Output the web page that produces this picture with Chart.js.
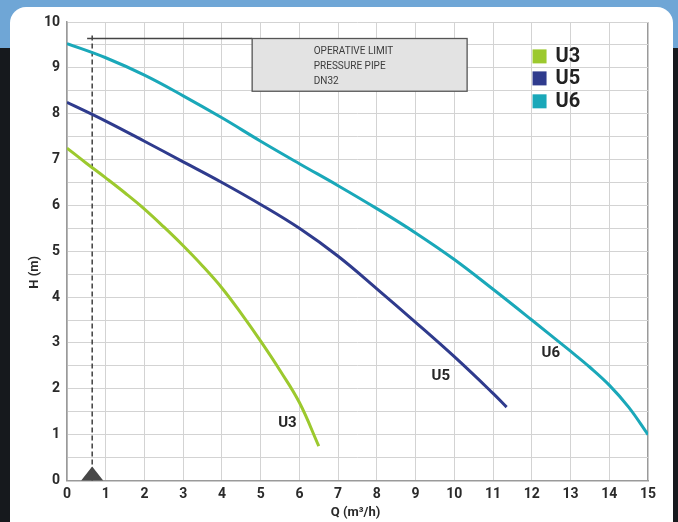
<!DOCTYPE html>
<html><head><meta charset="utf-8">
<script src="https://cdn.jsdelivr.net/npm/chart.js@4.4.1/dist/chart.umd.min.js"></script>
<style>
html,body{margin:0;padding:0;width:678px;height:522px;overflow:hidden;}
body{background:linear-gradient(to bottom,#6fa6d6 0,#6fa6d6 48px,#16191d 48px,#16191d 100%);position:relative;}
#panel{position:absolute;left:10px;top:7px;width:663px;height:540px;background:#fff;border-radius:16px 16px 0 0;}
#wrap{position:absolute;left:0;top:0;width:678px;height:522px;}
</style></head><body>
<div id="panel"></div>
<div id="wrap"><canvas id="c" width="678" height="522"></canvas></div>
<script>
// ---- data ----
const seriesNames = ['U3', 'U5', 'U6'];
const seriesColors = ['#9cc92e', '#2f3b8d', '#1aa8b9'];
const u3Q = [0, 0.5, 1, 1.5, 2, 2.5, 3, 3.5, 4, 4.5, 5, 5.5, 6, 6.5];
const u3H = [7.25, 6.92, 6.6, 6.27, 5.92, 5.53, 5.12, 4.68, 4.2, 3.64, 3.04, 2.4, 1.7, 0.75];
const u5Q = [0, 1, 2, 3, 4, 5, 6, 7, 8, 9, 10, 11, 11.35];
const u5H = [8.25, 7.84, 7.4, 6.95, 6.5, 6.02, 5.5, 4.89, 4.18, 3.45, 2.7, 1.9, 1.6];
const u6Q = [0, 1, 2, 3, 4, 5, 6, 7, 8, 9, 10, 11, 12, 13, 13.5, 14, 14.5, 15];
const u6H = [9.53, 9.22, 8.84, 8.39, 7.91, 7.4, 6.91, 6.43, 5.93, 5.4, 4.82, 4.17, 3.5, 2.82, 2.47, 2.08, 1.6, 1.0];
const xTicks = [0,1,2,3,4,5,6,7,8,9,10,11,12,13,14,15];
const yTicks = [0,1,2,3,4,5,6,7,8,9,10];
const limitQ = 0.65;         // operative limit flow
const limitH = 9.64;         // level of the limit line
const limitStartQ = 0.52;
const noteBoxQ = [4.78, 10.33];
const noteBoxH = [9.64, 8.49];
const noteLines = ['OPERATIVE LIMIT', 'PRESSURE PIPE', 'DN32'];
const noteTextQ = 6.37;
const curveLabelQ = [5.69, 9.65, 12.49];
const curveLabelH = [1.245, 2.27, 2.77];
const legendQ = 12.2;
const legendH = [9.25, 8.77, 8.27];
const xTitle = 'Q (m³/h)';
const yTitle = 'H (m)';

const FONT = 'Roboto, "DejaVu Sans", sans-serif';
const toPts = (qs, hs) => qs.map((q, i) => ({x: q, y: hs[i]}));
const allQ = [u3Q, u5Q, u6Q], allH = [u3H, u5H, u6H];

const datasets = seriesNames.map((n, i) => ({
  label: n,
  data: toPts(allQ[i], allH[i]),
  borderColor: seriesColors[i],
  backgroundColor: seriesColors[i],
  borderWidth: 3,
  pointRadius: 0,
  showLine: true,
  fill: false,
  tension: 0.4,
  borderCapStyle: 'butt'
}));

const annot = {
  id: 'annot',
  beforeDatasetsDraw(chart) {
    const {ctx, scales: {x, y}} = chart;
    ctx.save();
    const lx = x.getPixelForValue(limitQ);
    ctx.strokeStyle = '#333';
    ctx.lineWidth = 1.4;
    ctx.setLineDash([5, 3]);
    ctx.beginPath();
    ctx.moveTo(lx, y.getPixelForValue(0));
    ctx.lineTo(lx, y.getPixelForValue(limitH) - 4);
    ctx.stroke();
    ctx.setLineDash([]);
    ctx.lineWidth = 1.5;
    ctx.strokeStyle = '#444';
    ctx.beginPath();
    ctx.moveTo(x.getPixelForValue(limitStartQ), y.getPixelForValue(limitH));
    ctx.lineTo(x.getPixelForValue(noteBoxQ[0]), y.getPixelForValue(limitH));
    ctx.stroke();
    // note box
    const bx0 = x.getPixelForValue(noteBoxQ[0]), bx1 = x.getPixelForValue(noteBoxQ[1]);
    const by0 = y.getPixelForValue(noteBoxH[0]), by1 = y.getPixelForValue(noteBoxH[1]);
    ctx.fillStyle = '#e3e3e3';
    ctx.fillRect(bx0, by0, bx1 - bx0, by1 - by0);
    ctx.strokeStyle = '#555';
    ctx.lineWidth = 1.3;
    ctx.strokeRect(bx0, by0, bx1 - bx0, by1 - by0);
    ctx.fillStyle = '#3c3c3c';
    ctx.font = '10px ' + FONT;
    ctx.textAlign = 'left';
    ctx.textBaseline = 'middle';
    const tx = x.getPixelForValue(noteTextQ);
    noteLines.forEach((t, i) => ctx.fillText(t, tx, by0 + 12.5 + i * 15));
    ctx.restore();
  },
  afterDatasetsDraw(chart) {
    const {ctx, scales: {x, y}} = chart;
    ctx.save();
    // triangle marker at the limit
    const lx = x.getPixelForValue(limitQ), by = y.getPixelForValue(0);
    ctx.fillStyle = '#474747';
    ctx.beginPath();
    ctx.moveTo(lx - 11, by);
    ctx.lineTo(lx + 11, by);
    ctx.lineTo(lx, by - 14);
    ctx.closePath();
    ctx.fill();
    // curve labels
    ctx.fillStyle = '#262626';
    ctx.font = 'bold 15px ' + FONT;
    ctx.textAlign = 'center';
    ctx.textBaseline = 'middle';
    seriesNames.forEach((n, i) => ctx.fillText(n, x.getPixelForValue(curveLabelQ[i]), y.getPixelForValue(curveLabelH[i])));
    // legend
    ctx.textAlign = 'left';
    ctx.font = 'bold 20px ' + FONT;
    const lgx = x.getPixelForValue(legendQ);
    seriesNames.forEach((n, i) => {
      const cy = y.getPixelForValue(legendH[i]);
      ctx.fillStyle = seriesColors[i];
      ctx.fillRect(lgx - 7, cy - 7, 14, 14);
      ctx.fillStyle = '#222';
      ctx.fillText(n, lgx + 16, cy + 1);
    });
    // axis titles
    ctx.font = 'bold 13px ' + FONT;
    ctx.fillStyle = '#2a2a2a';
    ctx.textAlign = 'center';
    ctx.fillText(xTitle, (chart.chartArea.left + chart.chartArea.right) / 2 - 2, chart.chartArea.bottom + 32);
    ctx.translate(35, (chart.chartArea.top + chart.chartArea.bottom) / 2 + 21);
    ctx.rotate(-Math.PI / 2);
    ctx.fillText(yTitle, 0, 0);
    ctx.restore();
  }
};

new Chart(document.getElementById('c'), {
  type: 'scatter',
  data: {datasets},
  options: {
    responsive: false,
    animation: false,
    devicePixelRatio: 1,
    layout: {padding: {top: 22, right: 30, left: 0, bottom: 0}},
    plugins: {legend: {display: false}, tooltip: {enabled: false}},
    scales: {
      x: {
        type: 'linear', min: 0, max: 15,
        afterBuildTicks: s => { s.ticks = xTicks.map(v => ({value: v})); },
        afterFit: s => { s.height = 41.5; },
        ticks: {color: '#2a2a2a', font: {family: FONT, weight: 'bold', size: 14}, padding: 6, maxRotation: 0, autoSkip: false},
        grid: {drawTicks: false, color: c => (c.tick && c.tick.value === 15) ? '#9a9a9a' : '#d3d3d3', lineWidth: c => (c.tick && c.tick.value === 15) ? 1.5 : 1},
        border: {color: '#9a9a9a', width: 1.5}
      },
      y: {
        type: 'linear', min: 0, max: 10,
        ticks: {stepSize: 0.5, color: '#2a2a2a', font: {family: FONT, weight: 'bold', size: 14}, padding: 7,
          callback: v => yTicks.includes(v) ? String(v) : ''},
        afterFit: s => { s.width = 67; },
        grid: {drawTicks: false, color: '#d3d3d3', lineWidth: 1},
        border: {color: '#9a9a9a', width: 1.5}
      }
    }
  },
  plugins: [annot]
});
</script>
</body></html>
